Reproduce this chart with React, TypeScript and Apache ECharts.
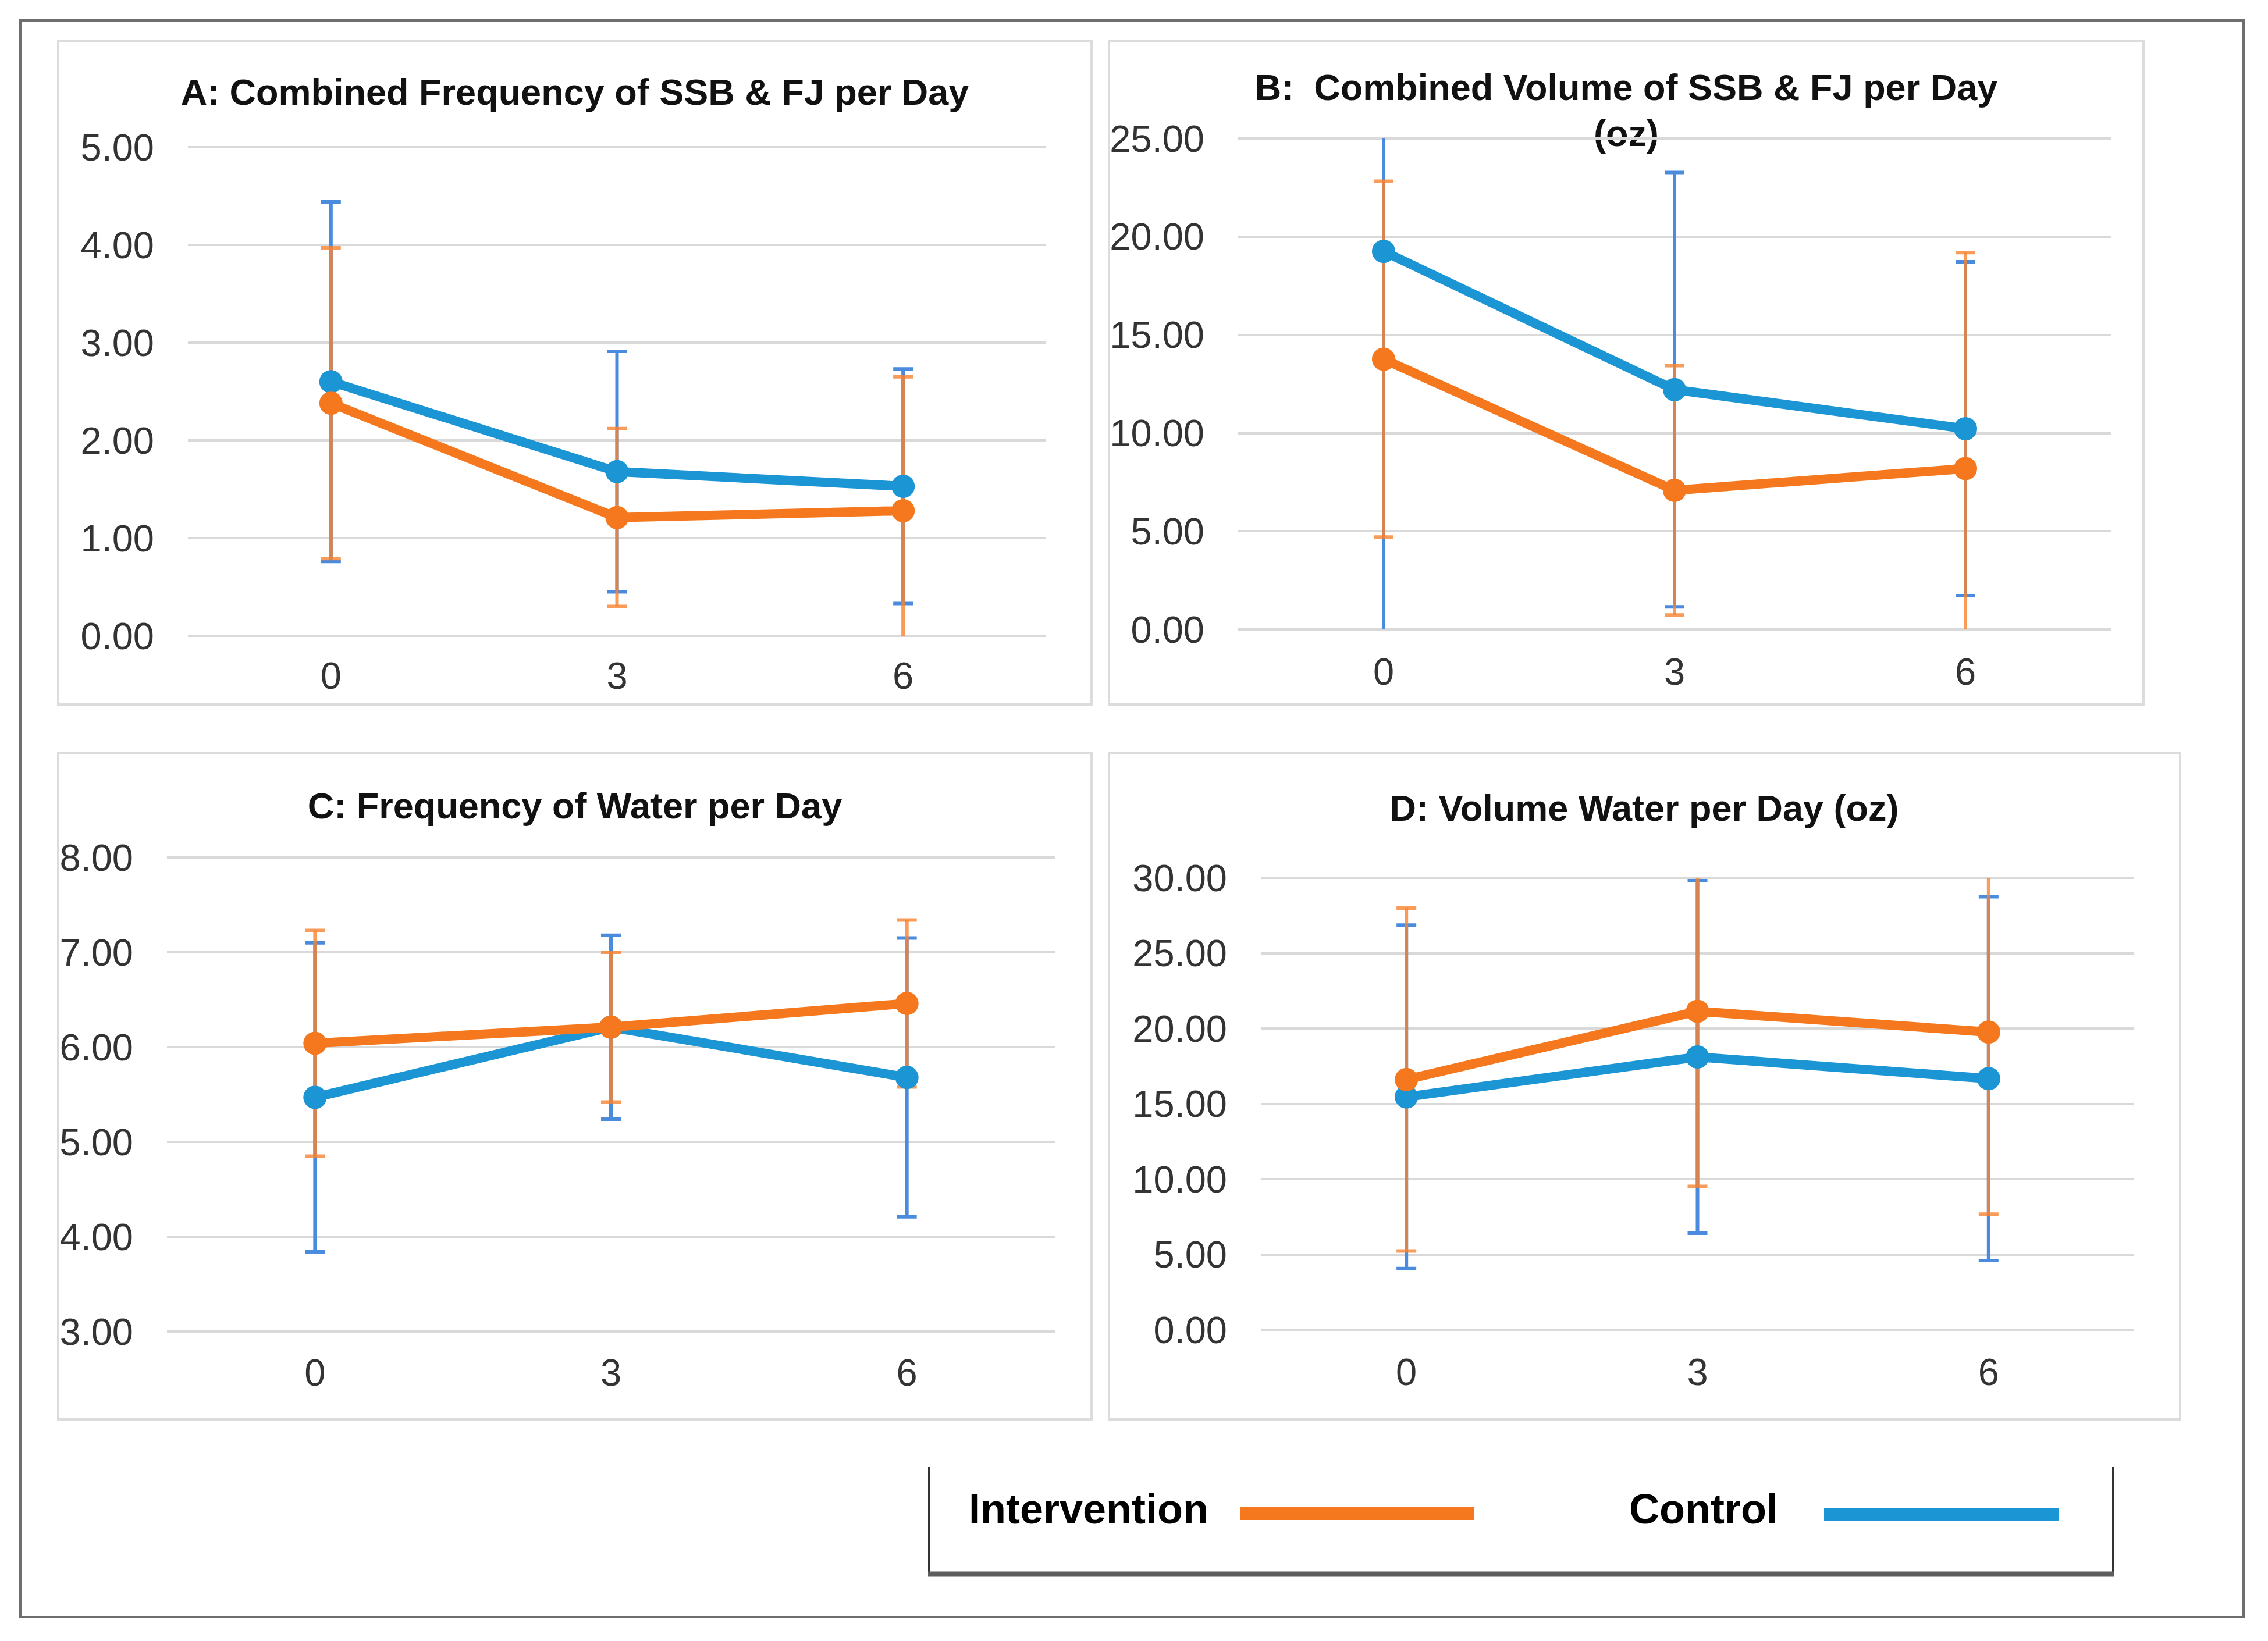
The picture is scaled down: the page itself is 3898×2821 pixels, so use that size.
import React, { useEffect, useRef } from "react";
import * as echarts from "echarts";

// ---- Data ----
const categories = ["0", "3", "6"];

const controlA = [2.6, 1.68, 1.53];
const controlSdA = [1.84, 1.23, 1.2];
const interventionA = [2.38, 1.21, 1.28];
const interventionSdA = [1.59, 0.91, 1.37];

const controlB = [19.25, 12.21, 10.22];
const controlSdB = [20.0, 11.06, 8.5];
const interventionB = [13.76, 7.08, 8.19];
const interventionSdB = [9.06, 6.35, 11.0];

const controlC = [5.47, 6.21, 5.68];
const controlSdC = [1.63, 0.97, 1.47];
const interventionC = [6.04, 6.21, 6.46];
const interventionSdC = [1.19, 0.79, 0.88];

const controlD = [15.46, 18.11, 16.67];
const controlSdD = [11.4, 11.7, 12.08];
const interventionD = [16.61, 21.14, 19.76];
const interventionSdD = [11.38, 11.62, 12.09];

const titles = [
  "A: Combined Frequency of SSB & FJ per Day",
  "B:  Combined Volume of SSB & FJ per Day\n(oz)",
  "C: Frequency of Water per Day",
  "D: Volume Water per Day (oz)",
];
const yMins = [0, 0, 3, 0];
const yMaxs = [5, 25, 8, 30];
const yIntervals = [1, 5, 1, 5];
const legendNames = ["Intervention", "Control"];

// ---- Styles / layout ----
const ORANGE = "#F5781E";
const BLUE = "#1B95D4";
const ORANGE_ERR = "#F7822F";
const BLUE_ERR = "#4A8BDE";
const FONT = '"Liberation Sans", Arial, sans-serif';

const grids = [
  { left: 323, top: 253, width: 1475, height: 840 },
  { left: 2128, top: 238, width: 1500, height: 844 },
  { left: 287, top: 1474, width: 1526, height: 815 },
  { left: 2167, top: 1509, width: 1501, height: 777 },
];
const panels = [
  { x: 100, y: 70, w: 1776, h: 1141 },
  { x: 1906, y: 70, w: 1778, h: 1141 },
  { x: 100, y: 1295, w: 1776, h: 1145 },
  { x: 1906, y: 1295, w: 1841, h: 1145 },
];
const titlePos = [
  { x: 988, y: 158 },
  { x: 2795, y: 189 },
  { x: 988, y: 1385 },
  { x: 2826, y: 1389 },
];
const xLabelMargins = [36, 40, 38, 40];

function errData(means: number[], sds: number[]) {
  return means.map((m, i) => [i, m - sds[i], m + sds[i]]);
}

function errorSeries(idx: number, means: number[], sds: number[], color: string, z: number, opacity: number) {
  return {
    type: "custom",
    xAxisIndex: idx,
    yAxisIndex: idx,
    z,
    silent: true,
    encode: { x: 0, y: [1, 2] },
    data: errData(means, sds),
    renderItem: (params: any, api: any) => {
      const xi = api.value(0);
      const lo = api.value(1);
      const hi = api.value(2);
      const cs = params.coordSys;
      const pHi = api.coord([xi, hi]);
      const pLo = api.coord([xi, lo]);
      const top = cs.y;
      const bottom = cs.y + cs.height;
      const yHi = Math.max(pHi[1], top);
      const yLo = Math.min(pLo[1], bottom);
      const x = pHi[0];
      const half = 17;
      const st = { stroke: color, lineWidth: 6, opacity };
      const children: any[] = [
        { type: "line", shape: { x1: x, y1: yHi, x2: x, y2: yLo }, style: st },
      ];
      if (pHi[1] >= top) {
        children.push({ type: "line", shape: { x1: x - half, y1: yHi, x2: x + half, y2: yHi }, style: st });
      }
      if (pLo[1] <= bottom) {
        children.push({ type: "line", shape: { x1: x - half, y1: yLo, x2: x + half, y2: yLo }, style: st });
      }
      return { type: "group", children };
    },
  };
}

function lineSeries(idx: number, name: string, data: number[], color: string, z: number) {
  return {
    type: "line",
    name,
    xAxisIndex: idx,
    yAxisIndex: idx,
    data,
    z,
    symbol: "circle",
    symbolSize: 40,
    lineStyle: { width: 16, color },
    itemStyle: { color },
  };
}

export default function App() {
  const ref = useRef<HTMLDivElement>(null);

  useEffect(() => {
    if (!ref.current) return;
    const chart = echarts.init(ref.current, undefined, { renderer: "svg" });

    const controls = [controlA, controlB, controlC, controlD];
    const controlSds = [controlSdA, controlSdB, controlSdC, controlSdD];
    const interventions = [interventionA, interventionB, interventionC, interventionD];
    const interventionSds = [interventionSdA, interventionSdB, interventionSdC, interventionSdD];

    const series: any[] = [];
    for (let i = 0; i < 4; i++) {
      series.push(errorSeries(i, controls[i], controlSds[i], BLUE_ERR, 1, 1));
      series.push(errorSeries(i, interventions[i], interventionSds[i], ORANGE_ERR, 2, 0.8));
      series.push(lineSeries(i, legendNames[1], controls[i], BLUE, 3));
      series.push(lineSeries(i, legendNames[0], interventions[i], ORANGE, 4));
    }

    const graphic: any[] = [];
    // outer border
    graphic.push({
      type: "rect",
      shape: { x: 35, y: 35, width: 3821, height: 2745 },
      style: { fill: "none", stroke: "#6e6e6e", lineWidth: 4 },
      z: -10,
    });
    panels.forEach((p) => {
      graphic.push({
        type: "rect",
        shape: { x: p.x, y: p.y, width: p.w, height: p.h },
        style: { fill: "none", stroke: "#DCDCDC", lineWidth: 4 },
        z: -5,
      });
    });
    titles.forEach((t, i) => {
      graphic.push({
        type: "text",
        x: titlePos[i].x,
        y: titlePos[i].y,
        style: {
          text: t,
          fill: "#111",
          font: `bold 63px ${FONT}`,
          textAlign: "center",
          textVerticalAlign: "middle",
          verticalAlign: "middle",
          lineHeight: 79,
        },
      });
    });
    // legend box
    graphic.push({
      type: "line",
      shape: { x1: 1597, y1: 2522, x2: 1597, y2: 2707 },
      style: { stroke: "#333", lineWidth: 4 },
    });
    graphic.push({
      type: "line",
      shape: { x1: 3632, y1: 2522, x2: 3632, y2: 2707 },
      style: { stroke: "#333", lineWidth: 4 },
    });
    graphic.push({
      type: "line",
      shape: { x1: 1595, y1: 2706, x2: 3634, y2: 2706 },
      style: { stroke: "#5e5e5e", lineWidth: 9 },
    });
    graphic.push({
      type: "text",
      x: 1665,
      y: 2594,
      style: {
        text: legendNames[0],
        fill: "#000",
        font: `bold 72px ${FONT}`,
        textAlign: "left",
        textVerticalAlign: "middle",
        verticalAlign: "middle",
      },
    });
    graphic.push({
      type: "line",
      shape: { x1: 2131, y1: 2602, x2: 2533, y2: 2602 },
      style: { stroke: ORANGE, lineWidth: 22 },
    });
    graphic.push({
      type: "text",
      x: 2800,
      y: 2594,
      style: {
        text: legendNames[1],
        fill: "#000",
        font: `bold 72px ${FONT}`,
        textAlign: "left",
        textVerticalAlign: "middle",
        verticalAlign: "middle",
      },
    });
    graphic.push({
      type: "line",
      shape: { x1: 3135, y1: 2603, x2: 3539, y2: 2603 },
      style: { stroke: BLUE, lineWidth: 22 },
    });

    chart.setOption({
      animation: false,
      backgroundColor: "#ffffff",
      grid: grids.map((g) => ({ ...g, containLabel: false })),
      xAxis: grids.map((_, i) => ({
        type: "category",
        gridIndex: i,
        data: categories,
        boundaryGap: true,
        axisLine: { show: false },
        axisTick: { show: false },
        splitLine: { show: false },
        axisLabel: {
          fontSize: 65,
          fontFamily: FONT,
          color: "#333",
          margin: xLabelMargins[i],
        },
      })),
      yAxis: grids.map((_, i) => ({
        type: "value",
        gridIndex: i,
        min: yMins[i],
        max: yMaxs[i],
        interval: yIntervals[i],
        axisLine: { show: false },
        axisTick: { show: false },
        splitLine: { show: true, lineStyle: { color: "#D9D9D9", width: 4 } },
        axisLabel: {
          fontSize: 65,
          fontFamily: FONT,
          color: "#333",
          margin: 58,
          formatter: (v: number) => v.toFixed(2),
        },
      })),
      series,
      graphic,
    });

    return () => {
      chart.dispose();
    };
  }, []);

  return (
    <div
      ref={ref}
      style={{ position: "fixed", left: 0, top: 0, width: 3898, height: 2821, background: "#fff" }}
    />
  );
}
